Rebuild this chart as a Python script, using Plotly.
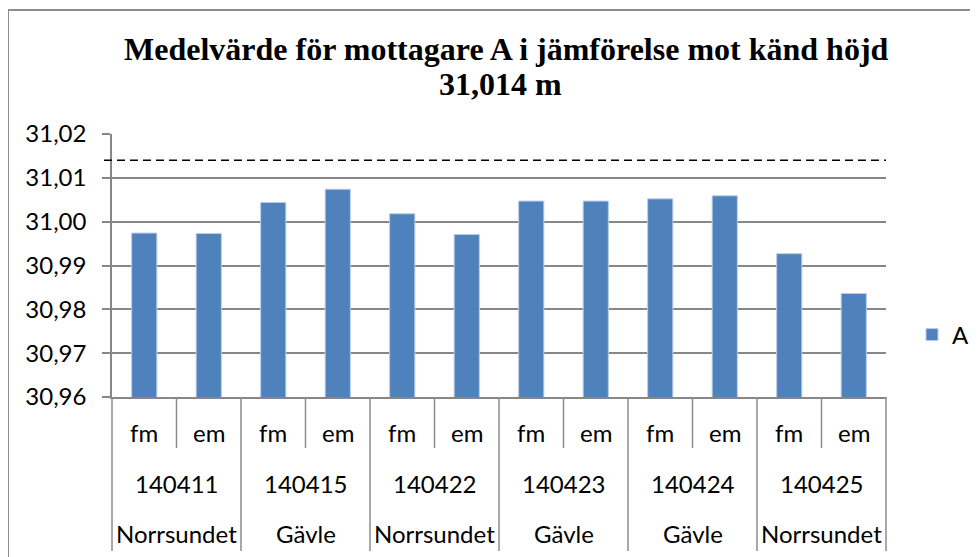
import plotly.graph_objects as go

# ---- data ----
periods = ["fm", "em", "fm", "em", "fm", "em", "fm", "em", "fm", "em", "fm", "em"]
dates = ["140411", "140415", "140422", "140423", "140424", "140425"]
locations = ["Norrsundet", "Gävle", "Norrsundet", "Gävle", "Gävle", "Norrsundet"]
values_A = [30.9974, 30.9973, 31.0044, 31.0074, 31.0018, 30.9971,
            31.0047, 31.0047, 31.0052, 31.0059, 30.9927, 30.9836]
known_height = 31.014
y_ticks = [30.96, 30.97, 30.98, 30.99, 31.00, 31.01, 31.02]

title_line1 = "Medelvärde för mottagare A i jämförelse mot känd höjd"
title_line2 = "31,014 m"

# ---- style ----
BAR = "#4F81BD"
GRID = "#878787"
LINE = "#8C8C8C"
FONT = "Lato"
FS = 24

W, H = 970, 549
L, T = 104, 126
PW, PH = 774, 263

n = len(values_A)
x_idx = list(range(n))
per_group = n // len(dates)


def py(px):
    """figure-pixel y -> paper y"""
    return 1 + (T - px) / PH


def pxx(px):
    return (px - L) / PW


fig = go.Figure()
fig.add_trace(go.Bar(
    x=x_idx, y=values_A, name="A",
    marker=dict(color=BAR, line=dict(color="#B9CDE5", width=1)),
))

# Known-height reference line (dashed)
fig.add_shape(type="line", xref="paper", yref="y",
              x0=-8 / PW, x1=1, y0=known_height, y1=known_height,
              line=dict(color="black", width=1.6, dash="8px,5px"))

# Category table below plot
short_bottom = py(440)
long_bottom = py(543)
for k in range(n + 1):
    is_group_edge = (k % per_group == 0)
    fig.add_shape(type="line", xref="paper", yref="paper",
                  x0=k / n, x1=k / n, y0=0, y1=long_bottom if is_group_edge else short_bottom,
                  line=dict(color=LINE, width=1.5))

for i, p in enumerate(periods):
    fig.add_annotation(x=x_idx[i], y=py(424), xref="x", yref="paper", text=p,
                       showarrow=False, yanchor="middle",
                       font=dict(family=FONT, size=FS, color="black"))
for g, (d, loc) in enumerate(zip(dates, locations)):
    xc = g * per_group + (per_group - 1) / 2
    fig.add_annotation(x=xc, y=py(475), xref="x", yref="paper", text=d,
                       showarrow=False, yanchor="middle",
                       font=dict(family=FONT, size=FS, color="black"))
    fig.add_annotation(x=xc, y=py(525), xref="x", yref="paper", text=loc,
                       showarrow=False, yanchor="middle",
                       font=dict(family=FONT, size=FS, color="black"))

# Titles
fig.add_annotation(x=pxx(498), y=py(41), xref="paper", yref="paper",
                   text="<b>" + title_line1 + "</b>", showarrow=False, yanchor="middle",
                   font=dict(family="Liberation Serif", size=32, color="black"))
fig.add_annotation(x=pxx(492), y=py(76), xref="paper", yref="paper",
                   text="<b>" + title_line2 + "</b>", showarrow=False, yanchor="middle",
                   font=dict(family="Liberation Serif", size=32, color="black"))

# Chart-area border (top & left visible)
fig.add_shape(type="rect", xref="paper", yref="paper",
              x0=pxx(0), x1=2, y0=py(2), y1=-2,
              line=dict(color=LINE, width=2))

fig.update_layout(
    width=W, height=H,
    margin=dict(l=L, r=W - L - PW, t=T, b=H - T - PH, autoexpand=False),
    paper_bgcolor="white", plot_bgcolor="white",
    separators=", ",
    bargap=0.61,
    showlegend=True,
    legend=dict(x=pxx(904), xanchor="left", y=py(327), yanchor="middle",
                font=dict(family=FONT, size=FS, color="black"),
                bgcolor="rgba(0,0,0,0)"),
    xaxis=dict(range=[-0.5, n - 0.5], showticklabels=False, showgrid=False,
               showline=True, linecolor=GRID, linewidth=1.5, ticks="", zeroline=False,
               fixedrange=True),
    yaxis=dict(range=[y_ticks[0], y_ticks[-1]], tickvals=y_ticks, tickformat=".2f",
               showgrid=True, gridcolor=GRID, gridwidth=1.5,
               showline=True, linecolor=GRID, linewidth=1.5,
               ticks="outside", ticklen=8, tickcolor=GRID, tickwidth=1.5,
               ticklabelstandoff=11, zeroline=False, automargin=False,
               tickfont=dict(family=FONT, size=24, color="black")),
)

fig.write_html("out.html")
